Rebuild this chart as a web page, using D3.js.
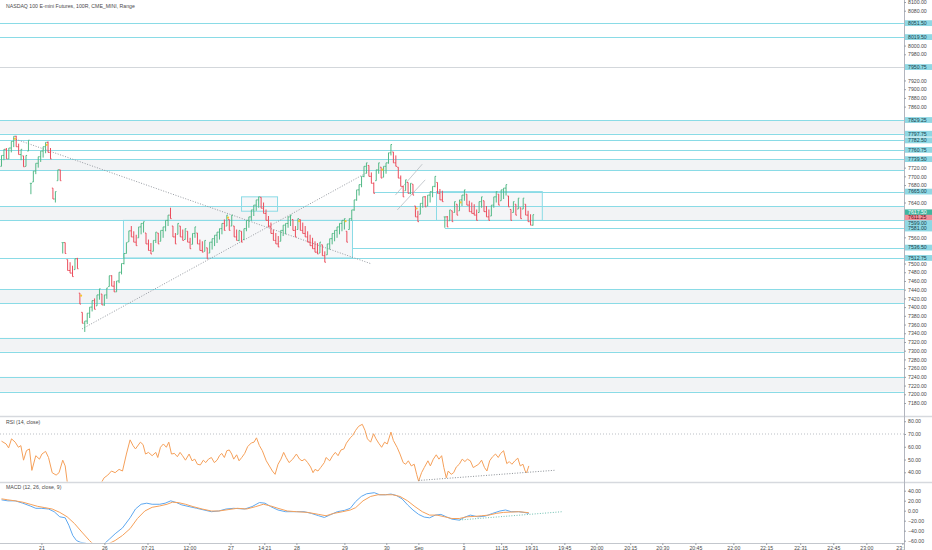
<!DOCTYPE html>
<html>
<head>
<meta charset="utf-8">
<script src="https://cdn.jsdelivr.net/npm/d3@7"></script>
<style>
body { margin: 0; background: #fff; }
svg { display: block; font-family: "Liberation Sans", Arial, sans-serif; }
</style>
</head>
<body>
<div id="chart"></div>
<script>
const CANVAS_WIDTH = 932;
const CANVAS_HEIGHT = 550;
const AXIS_X = 904;
const BAR_RANGE = 25; // 100R on NQ -> 25 points per range bar

// range bar closes and colours (U = up / green, D = down / red)
const closes = [
    7748, 7762, 7740, 7765, 7780, 7792, 7768, 7750, 7762, 7722, 7748, 7783, 7684, 7712, 7730, 7745, 7758, 7768, 7778, 7755, 7740, 7648, 7665, 7715, 7690,
    7548, 7523, 7484, 7478, 7470, 7511, 7488, 7407, 7363, 7368,
    7386, 7400, 7415, 7395, 7428, 7442, 7405, 7428, 7444, 7472, 7448, 7435, 7460, 7480, 7500, 7523, 7548, 7575,
    7561, 7549, 7541, 7584, 7592, 7596, 7545, 7530, 7522, 7553, 7572, 7545, 7576, 7584, 7599, 7611, 7603, 7561, 7545, 7592, 7561, 7553, 7580, 7549, 7534, 7569, 7584, 7545, 7530, 7526, 7553, 7511,
    7549, 7557, 7565, 7572, 7580, 7592, 7576, 7611, 7576, 7611, 7561, 7553, 7576, 7549, 7580, 7599, 7607, 7623, 7634, 7646, 7653,
    7627, 7615, 7599, 7584, 7569, 7553, 7545, 7538,
    7576, 7588, 7592, 7607, 7611, 7576, 7561, 7603, 7576, 7569, 7561, 7549, 7541, 7534, 7526, 7522, 7549, 7518, 7503,
    7545, 7557, 7569, 7576, 7584, 7592, 7599, 7603, 7549, 7603, 7623, 7646, 7669, 7681, 7700, 7723, 7731, 7700, 7684, 7661, 7715, 7731,
    7696, 7723, 7731, 7754, 7773,
    7731, 7723, 7696, 7677, 7653, 7692, 7661, 7684, 7657, 7607, 7596, 7638, 7653, 7630, 7657, 7665, 7677, 7700, 7661, 7646, 7642,
    7607, 7584, 7623, 7596, 7642, 7611, 7646, 7657, 7669, 7634, 7619, 7615, 7611, 7599, 7642, 7653, 7619, 7607, 7599, 7634, 7653, 7665, 7634, 7669, 7673, 7681, 7630, 7599, 7642, 7611, 7650, 7603, 7650, 7611, 7596, 7588, 7612
];
const dirs = "UUDUUUDDUDUUUUUUUUUDDDUUD" +
    "UDDDDUDDDU" +
    "UUUDUUDUUUDDUUUUUU" +
    "DDDUUUDDDUUDUUUUDDDUDDUDDUUDDDUD" +
    "UUUUUUDUDUDDUDUUUUUUU" + "DDDDDDDD" + "UUUUUDDUDDDDDDDDUDD" + "UUUUUUUUDUUUUUUUUDDDUU" +
    "DUUUU" + "DDDDDUDUDDDUUDUUUUDDD" + "UDUDUDUUUDDDDDUUDDDUUUDUUUDDUDUDUDDDU";
const markerBars = [5, 18, 32, 92, 121, 140, 155, 169, 187];

// RSI (14, close) as [bar, value]
const rsiPts = [[0,64.4],[1.9,62.2],[2.9,59.1],[4.1,66.2],[5.6,63.6],[6.9,59.6],[7.9,60.9],[9,49.5],[10.2,57],[11.4,58.3],[12.4,41.5],[14,53],[15.5,50.3],[16.5,54.3],[18,56.4],[19.2,51.6],[20.7,39.7],[22.3,37.8],[23.5,39.7],[25,49.5],[26,45],[27,30],[30,24],[34,19],[38,23],[40.5,31],[41.9,35.7],[43.4,37.8],[44.9,41],[46.4,39.7],[48,42.3],[49.4,41],[51,54.3],[52.5,65.4],[53.7,60.9],[54.7,58.3],[56.7,63.6],[57.8,61.7],[58.8,54.3],[60,55.6],[61.5,53],[63,55.6],[63.8,51.6],[64.9,59.6],[66.1,62.2],[67.3,59.6],[68.3,63.6],[69.4,54.3],[70.6,54.8],[71.8,52.2],[72.9,55.6],[73.9,53],[75.1,49.5],[76.6,54.3],[77.8,49],[78.9,50.3],[80,46.3],[81.2,45.8],[82.4,49.5],[83.4,47.6],[84.5,50.3],[85.7,51.6],[86.9,47.6],[88,49.5],[89,53],[89.9,54.8],[91,51.6],[92,56.9],[93,57.5],[94,54.3],[94.8,50.3],[96,53.7],[97,49],[98.1,51.6],[99.3,54.8],[100.5,60.1],[102,63],[103.1,63.6],[104.1,67],[105.3,60.9],[106.5,56.9],[108.1,49],[109.6,44.2],[110.6,41],[111.7,38.4],[112.9,46.3],[114.1,50.3],[115.2,55.6],[116.2,51.6],[117.4,47.6],[118.9,50.3],[120.4,54.3],[121.7,50.3],[122.7,49],[123.8,50.3],[125,47.6],[126.2,44.2],[127.2,39.7],[128,42.3],[129.2,41],[130.3,43.7],[131.8,47.6],[132.5,51.6],[134,49],[135.2,53],[136.3,55.6],[137.4,53],[138.6,57.5],[139.8,58.3],[140.8,62.8],[142.4,67],[143.4,68.9],[144.6,72.9],[145.8,76],[147.3,77.6],[148.4,72.9],[149.4,66.2],[150.7,63.6],[151.9,70.2],[152.9,66.2],[154,62.8],[155.2,59.6],[156.4,63.6],[157.5,62.2],[159,71.5],[160,64.9],[161.5,59.6],[162.7,54.3],[164,47.6],[165,46.3],[166.1,49],[167.3,45],[168.5,46.3],[169.5,38.4],[170.3,33],[171.5,39.7],[172.6,43.7],[174.1,49],[175.1,45],[176.3,50.3],[177.5,53.7],[178.6,50.3],[179.7,53],[180.6,43.7],[181.6,35.7],[182.4,41],[183.6,38.4],[184.6,39.7],[185.7,44.2],[186.9,46.3],[188.1,50.3],[189.2,48.4],[190.2,50.3],[191.4,49],[192.6,43.7],[193.7,45],[194.8,46.3],[196,49.5],[197.2,43.7],[198.2,41],[199.3,49],[200.5,52.2],[201.7,54.3],[202.8,51.6],[203.8,54.8],[205,56.9],[206.3,46.8],[207.3,48.4],[208.4,46.3],[209.6,49],[210.8,51.1],[211.8,45],[212.9,46.3],[213.8,41],[214.4,39.7],[215.3,45]];

// MACD (12, 26, close, 9): macd line and signal line as [bar, value]
const macdPts = [[0,21.7],[2.6,19.7],[5.6,19.7],[8.7,15],[11.7,9.5],[14,4.8],[16.2,4.8],[19.2,3.4],[21.5,-2],[23.8,-12.2],[26,-14.2],[27.5,-29.1],[29.1,-49.5],[30.6,-59.6],[32.1,-63],[34.3,-65],[37,-74],[40,-76],[41.9,-66.4],[44.2,-56.2],[46.4,-46.1],[49.4,-34.5],[52.5,-14.2],[54.7,3.4],[57,12.9],[59.3,15],[61.5,12.9],[64.6,12.9],[66.8,15],[69.1,19.7],[71.4,16.3],[73.6,11.6],[76.6,8.2],[79.7,4.8],[82.7,1.4],[85.7,-2],[88.7,-0.6],[91.7,3.4],[94.8,4.8],[99.3,3.4],[102.3,8.2],[105.3,16.3],[107.6,15],[109.9,8.2],[112.9,1.4],[115.9,-2],[120.4,-2],[123.5,-2],[126.5,-5.4],[129.5,-10.1],[131.8,-13.5],[134,-8.8],[137.1,-2],[140.1,0.7],[142.4,4.8],[144.6,18.3],[146.9,28.5],[149.1,33.9],[152.2,36],[154.4,31.9],[156.7,31.9],[159,33.3],[161.2,30.5],[163.5,23.8],[165.8,11.6],[168,1.4],[170.3,-7.4],[172.6,-12.8],[174.8,-14.2],[177.1,-8.8],[179.4,-7.4],[181.6,-12.2],[183.9,-16.9],[186.9,-18.9],[189.2,-12.8],[191.4,-8.8],[194.5,-12.2],[197.5,-10.8],[200.5,-5.4],[203.5,-0.6],[205.8,1.4],[208.1,-2],[211.1,-2],[213.3,-3.4],[215.3,-5.4]];
const signalPts = [[0,23.8],[2.6,21.7],[5.6,19.7],[8.7,17],[11.7,12.9],[14.7,8.8],[17.7,6.1],[20.7,3.4],[23.8,-3.4],[26.8,-12.2],[29.8,-25.7],[32.8,-42.7],[35.9,-59.6],[37.4,-66.4],[40.4,-72],[44.2,-65],[46.4,-59.6],[49.4,-49.5],[52.5,-35.9],[55.5,-15.6],[58.5,-0.6],[61.5,6.8],[64.6,9.5],[67.6,12.9],[69.8,17],[72.1,16.3],[75.1,12.9],[78.2,8.2],[81.9,3.4],[85.7,-0.6],[88.7,-0.6],[92.5,2.1],[96.3,4.8],[100.1,3.4],[103.8,8.2],[106.9,12.9],[109.9,9.5],[112.9,4.8],[116.7,-0.6],[120.4,-2],[125,-3.4],[129.5,-7.4],[132.5,-10.1],[135.6,-5.4],[139.3,-2],[142.4,1.4],[144.6,6.1],[147.6,19.7],[150.7,28.5],[153.7,31.9],[156.7,31.9],[159.7,31.9],[162.7,28.5],[165.8,19.7],[168.8,8.2],[171.8,-2],[174.8,-8.8],[177.8,-8.8],[180.9,-12.2],[183.9,-15.6],[186.9,-15.6],[190,-12.2],[193,-11.5],[196,-10.1],[199,-8.8],[202,-5.4],[205,-3.4],[208.1,-2.7],[211.1,-2],[214.1,-3.4],[215.3,-4.1]];

// horizontal levels drawn on the chart
const levelPrices = [8051.5, 8019.5, 7950.75, 7829.25, 7797.75, 7782.5, 7760.75, 7739.5, 7714.5, 7665, 7631.75, 7599, 7581, 7536.5, 7512.75, 7441.5, 7408.75, 7329.75, 7297.75, 7240.25, 7206];
const levelStartBar = [-5, -5, -5, -5, -5, -5, -5, -5, -5, 152, -5, -5, 181, 143.3, -5, -5, -5, -5, -5, -5, -5];
const levelLabeled = [1, 1, 1, 1, 1, 1, 1, 1, 0, 1, 0, 1, 1, 1, 1, 0, 0, 0, 0, 0, 0];
const zoneTop = [7829.25, 7739.5, 7631.75, 7441.5, 7329.75, 7240.25];
const zoneBottom = [7797.75, 7714.5, 7599, 7408.75, 7297.75, 7206];
const boxFrom = [49.8, 98, 177.6];
const boxTo = [143.3, 112.7, 220.8];
const boxTop = [7599, 7653, 7665];
const boxBottom = [7512.75, 7620, 7599];
const lastPrice = 7617.5;
const prevPrice = 7611.25;

// trend lines [bar0, value0, bar1, value1]
const priceDotted = [[4.9, 7787, 150.6, 7500], [32.9, 7350, 149.3, 7709]];
const priceSolid = [[160.8, 7657, 171.8, 7728], [161.6, 7623, 173, 7692]];
const rsiTrend = [170.3, 33.6, 226, 41.6];
const macdTrend = [187, -18.6, 229, -2];

const timeLabels = ["21", "26", "07:21", "12:00", "27", "14:21", "28", "29", "30", "Sep", "3", "11:15", "19:31", "19:45", "20:00", "20:15", "20:30", "20:45", "22:00", "22:15", "22:31", "22:45", "23:00", "23:15"];
const timeBars = [16.3, 42, 59.6, 76.7, 93.5, 107.3, 120.4, 140, 157.1, 170.2, 188.6, 204, 216.3, 229.8, 242.9, 256.7, 269.8, 283.3, 298.8, 312.2, 326.1, 339.6, 353.1, 367.8];

var svg, x_scale, y_scale, rsi_scale, macd_scale;

const UP_COLOR = "#53b987";
const DOWN_COLOR = "#eb4d5c";
const LEVEL_COLOR = "#8adbe6";
const ZONE_FILL = "#f2f3f5";
const TEXT_COLOR = "#4a4a4a";

function buildBars() {
    var bars = [];
    var n = Math.min(closes.length, dirs.length);
    for (var i = 0; i < n; i++) {
        var c = closes[i];
        var up = dirs[i] === "U";
        var hi = up ? c : c + BAR_RANGE;
        var lo = up ? c - BAR_RANGE : c;
        var prev = i > 0 ? closes[i - 1] : (up ? lo : hi);
        var o = Math.max(lo, Math.min(hi, prev));
        bars.push({ i: i, o: o, h: hi, l: lo, c: c, up: up });
    }
    return bars;
}

function addClip(id, x, y, w, h) {
    svg.append("clipPath").attr("id", id)
        .append("rect").attr("x", x).attr("y", y).attr("width", w).attr("height", h);
}

function drawLevels(g) {
    // shaded zones
    g.selectAll(".zone").data(zoneTop).enter().append("rect")
        .attr("x", 0).attr("width", AXIS_X)
        .attr("y", (d) => y_scale(d))
        .attr("height", (d, i) => y_scale(zoneBottom[i]) - y_scale(d))
        .attr("fill", ZONE_FILL);

    // boxes
    g.selectAll(".box").data(boxFrom).enter().append("rect")
        .attr("x", (d) => x_scale(d))
        .attr("width", (d, i) => x_scale(boxTo[i]) - x_scale(d))
        .attr("y", (d, i) => y_scale(boxTop[i]))
        .attr("height", (d, i) => y_scale(boxBottom[i]) - y_scale(boxTop[i]))
        .attr("fill", "#f4f5f7").attr("fill-opacity", 0.8)
        .attr("stroke", LEVEL_COLOR).attr("stroke-width", 1);

    g.selectAll(".level").data(levelPrices).enter().append("line")
        .attr("x1", (d, i) => x_scale(levelStartBar[i]))
        .attr("x2", AXIS_X)
        .attr("y1", (d) => Math.round(y_scale(d)) + 0.5)
        .attr("y2", (d) => Math.round(y_scale(d)) + 0.5)
        .attr("stroke", (d) => d === 7950.75 ? "#d3d7db" : LEVEL_COLOR)
        .attr("stroke-width", 1);
}

function drawBars(g, bars) {
    g.selectAll(".bar").data(bars).enter().append("path")
        .attr("d", (d) => {
            var x = x_scale(d.i);
            return "M" + x + "," + y_scale(d.h) + "V" + y_scale(d.l) +
                "M" + (x - 1.1) + "," + y_scale(d.o) + "H" + x +
                "M" + x + "," + y_scale(d.c) + "H" + (x + 1.1);
        })
        .attr("fill", "none")
        .attr("stroke", (d) => d.up ? UP_COLOR : DOWN_COLOR)
        .attr("stroke-width", 1);

    var markers = bars.filter((d) => markerBars.indexOf(d.i) >= 0);
    g.selectAll(".marker").data(markers).enter().append("circle")
        .attr("cx", (d) => x_scale(d.i) + 1.2)
        .attr("cy", (d) => y_scale(d.h) + 2.5)
        .attr("r", 1.1)
        .attr("fill", "#f7c531");
}

function drawTrendLines(g) {
    g.selectAll(".dotted").data(priceDotted).enter().append("line")
        .attr("x1", (d) => x_scale(d[0])).attr("y1", (d) => y_scale(d[1]))
        .attr("x2", (d) => x_scale(d[2])).attr("y2", (d) => y_scale(d[3]))
        .attr("stroke", "#8a8f96").attr("stroke-width", 0.9)
        .attr("stroke-dasharray", "1,1.6");
    g.selectAll(".solid").data(priceSolid).enter().append("line")
        .attr("x1", (d) => x_scale(d[0])).attr("y1", (d) => y_scale(d[1]))
        .attr("x2", (d) => x_scale(d[2])).attr("y2", (d) => y_scale(d[3]))
        .attr("stroke", "#b8bcc2").attr("stroke-width", 0.8);
}

function drawPriceAxis(bars) {
    // highlighted level labels, spread so they don't overlap
    var labels = [];
    levelPrices.forEach((p, i) => {
        if (levelLabeled[i]) labels.push({ p: p, bg: "#8fd8e4", fg: "#18424a" });
    });
    labels.push({ p: lastPrice, bg: "#3fb59f", fg: "#ffffff" });
    labels.push({ p: prevPrice, bg: "#f2909b", fg: "#5a0d16" });
    labels.forEach((d) => d.y = y_scale(d.p));
    labels.sort((a, b) => a.y - b.y);
    for (var k = 1; k < labels.length; k++) {
        if (labels[k].y < labels[k - 1].y + 5.4) labels[k].y = labels[k - 1].y + 5.4;
    }

    var ticks = d3.range(7180, 8101, 20).filter((t) => {
        var ty = y_scale(t);
        return ty > 1 && !labels.some((l) => Math.abs(l.y - ty) < 5.5);
    });
    var axis = d3.axisRight(y_scale)
        .tickValues(ticks)
        .tickSize(2)
        .tickPadding(2)
        .tickFormat(d3.format(".2f"));
    var ax = svg.append("g")
        .attr("transform", "translate(" + AXIS_X + ",0)")
        .call(axis);
    styleAxis(ax);

    var lg = svg.append("g");
    lg.selectAll("rect").data(labels).enter().append("rect")
        .attr("x", AXIS_X + 1).attr("width", 27)
        .attr("y", (d) => d.y - 2.9).attr("height", 5.8)
        .attr("fill", (d) => d.bg);
    lg.selectAll("text").data(labels).enter().append("text")
        .attr("x", AXIS_X + 4).attr("y", (d) => d.y)
        .attr("dy", "0.34em")
        .attr("font-size", 5.2)
        .attr("fill", (d) => d.fg)
        .text((d) => d3.format(".2f")(d.p));
}

function styleAxis(ax) {
    ax.select(".domain").remove();
    ax.selectAll("line").attr("stroke", "#9aa0a8");
    ax.selectAll("text")
        .attr("font-size", 5.2)
        .attr("font-family", "Liberation Sans, Arial, sans-serif")
        .attr("fill", TEXT_COLOR);
}

function drawRsi() {
    var g = svg.append("g").attr("clip-path", "url(#rsi-clip)");
    g.append("line")
        .attr("x1", 0).attr("x2", AXIS_X)
        .attr("y1", rsi_scale(70)).attr("y2", rsi_scale(70))
        .attr("stroke", "#a9aeb6").attr("stroke-width", 0.8)
        .attr("stroke-dasharray", "1,2");
    var line = d3.line().x((d) => x_scale(d[0])).y((d) => rsi_scale(d[1]));
    g.append("path").datum(rsiPts)
        .attr("d", line)
        .attr("fill", "none").attr("stroke", "#f5a05a").attr("stroke-width", 1);
    g.append("line")
        .attr("x1", x_scale(rsiTrend[0])).attr("y1", rsi_scale(rsiTrend[1]))
        .attr("x2", x_scale(rsiTrend[2])).attr("y2", rsi_scale(rsiTrend[3]))
        .attr("stroke", "#7d8289").attr("stroke-width", 0.9)
        .attr("stroke-dasharray", "1,1.6");

    var ax = svg.append("g")
        .attr("transform", "translate(" + AXIS_X + ",0)")
        .call(d3.axisRight(rsi_scale).tickValues([40, 50, 60, 70, 80]).tickSize(2).tickPadding(2).tickFormat(d3.format(".2f")));
    styleAxis(ax);

    svg.append("text").attr("x", 6).attr("y", 424)
        .attr("font-size", 5.2).attr("fill", TEXT_COLOR)
        .text("RSI (14, close)");
}

function drawMacd() {
    var g = svg.append("g").attr("clip-path", "url(#macd-clip)");
    var line = d3.line().x((d) => x_scale(d[0])).y((d) => macd_scale(d[1]));
    g.append("path").datum(macdPts)
        .attr("d", line)
        .attr("fill", "none").attr("stroke", "#5ea8f0").attr("stroke-width", 1);
    g.append("path").datum(signalPts)
        .attr("d", line)
        .attr("fill", "none").attr("stroke", "#f5a05a").attr("stroke-width", 1);
    g.append("line")
        .attr("x1", x_scale(macdTrend[0])).attr("y1", macd_scale(macdTrend[1]))
        .attr("x2", x_scale(macdTrend[2])).attr("y2", macd_scale(macdTrend[3]))
        .attr("stroke", "#5fb8a8").attr("stroke-width", 0.9)
        .attr("stroke-dasharray", "1,1.6");

    var ax = svg.append("g")
        .attr("transform", "translate(" + AXIS_X + ",0)")
        .call(d3.axisRight(macd_scale).tickValues([-60, -40, -20, 0, 20, 40]).tickSize(2).tickPadding(2).tickFormat(d3.format(".2f")));
    styleAxis(ax);

    svg.append("text").attr("x", 6).attr("y", 489)
        .attr("font-size", 5.2).attr("fill", TEXT_COLOR)
        .text("MACD (12, 26, close, 9)");
}

function drawTimeAxis() {
    var axis = d3.axisBottom(x_scale)
        .tickValues(timeBars)
        .tickSize(2)
        .tickPadding(1.5)
        .tickFormat((d, i) => timeLabels[i]);
    var ax = svg.append("g")
        .attr("clip-path", "url(#time-clip)")
        .append("g")
        .attr("transform", "translate(0,543)")
        .call(axis);
    styleAxis(ax);
}

function initChart() {
    svg = d3.select("#chart")
        .append("svg")
        .attr("width", CANVAS_WIDTH)
        .attr("height", CANVAS_HEIGHT);

    svg.append("rect").attr("width", CANVAS_WIDTH).attr("height", CANVAS_HEIGHT).attr("fill", "#fff");

    addClip("main-clip", 0, 0, AXIS_X, 416);
    addClip("rsi-clip", 0, 418, AXIS_X, 63.5);
    addClip("macd-clip", 0, 483.5, AXIS_X, 59);
    addClip("time-clip", 0, 540, AXIS_X, 10);

    x_scale = d3.scaleLinear().domain([0, 217]).range([1.5, 533]);
    y_scale = d3.scaleLinear().domain([7180, 8100]).range([403, 2]);
    rsi_scale = d3.scaleLinear().domain([40, 70]).range([472.3, 434]);
    macd_scale = d3.scaleLinear().domain([-60, 40]).range([540.7, 490.7]);

    var bars = buildBars();
    var main = svg.append("g").attr("clip-path", "url(#main-clip)");
    drawLevels(main);
    drawTrendLines(main);
    drawBars(main, bars);

    svg.append("text").attr("x", 6).attr("y", 8)
        .attr("font-size", 5.2).attr("fill", TEXT_COLOR)
        .text("NASDAQ 100 E-mini Futures, 100R, CME_MINI, Range");

    // pane separators and price-scale border
    svg.selectAll(".sep").data([416.5, 482.5]).enter().append("line")
        .attr("x1", 0).attr("x2", CANVAS_WIDTH)
        .attr("y1", (d) => d).attr("y2", (d) => d)
        .attr("stroke", "#d6d9de").attr("stroke-width", 1.6);
    svg.append("line")
        .attr("x1", 0).attr("x2", AXIS_X)
        .attr("y1", 543.5).attr("y2", 543.5)
        .attr("stroke", "#c3c7cd").attr("stroke-width", 1);
    svg.append("line")
        .attr("x1", AXIS_X + 0.5).attr("x2", AXIS_X + 0.5)
        .attr("y1", 0).attr("y2", CANVAS_HEIGHT)
        .attr("stroke", "#b2b5be").attr("stroke-width", 1);

    drawRsi();
    drawMacd();
    drawTimeAxis();
    drawPriceAxis(bars);
}

initChart();
</script>
</body>
</html>
